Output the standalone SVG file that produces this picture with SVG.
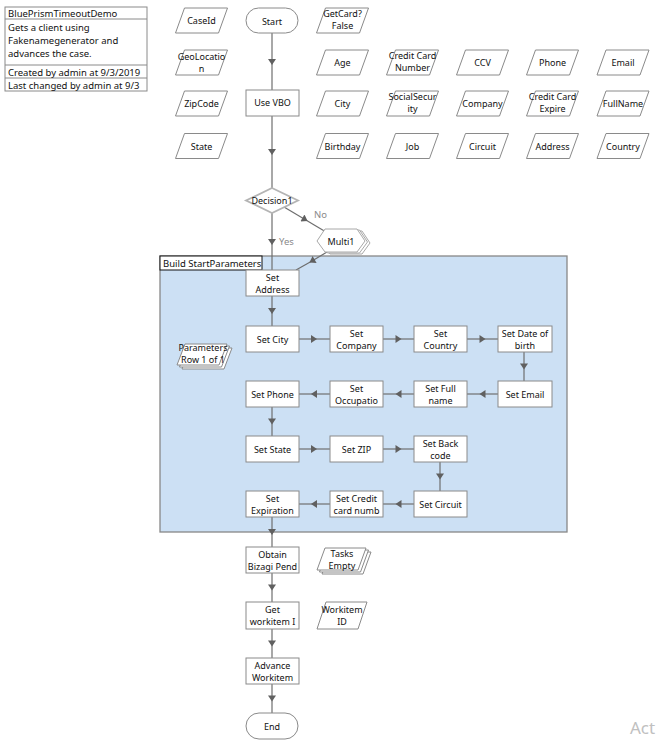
<svg xmlns="http://www.w3.org/2000/svg" width="662" height="741" viewBox="0 0 662 741">
<style>
text{font-family:"Noto Sans","Open Sans","DejaVu Sans",sans-serif;font-size:9px;fill:#111}
.info{font-size:9.5px}
.box{fill:#fff;stroke:#8a8a8a;stroke-width:1}
.par{fill:#fff;stroke:#8a8a8a;stroke-width:1}
.conn{fill:none;stroke:#6e6e6e;stroke-width:1.2;marker-mid:url(#ah)}
.lbl{fill:#8a8a8a;font-size:9.5px}
.wm{fill:#c0c0c0;font-size:17px}
</style>
<defs>
<marker id="ah" viewBox="0 0 8 8" refX="4" refY="4" markerWidth="8" markerHeight="8" markerUnits="userSpaceOnUse" orient="auto">
<path d="M1,0 L7,4 L1,8 z" fill="#606060"/>
</marker>
<polygon id="pg" points="-17,-12.5 26,-12.5 17,12.5 -26,12.5"/>
</defs>
<rect width="662" height="741" fill="#fff"/>

<g id="info">
<rect x="5" y="7" width="142" height="84" fill="#fff" stroke="#8a8a8a"/>
<line x1="5" y1="19" x2="147" y2="19" stroke="#8a8a8a"/>
<line x1="5" y1="65" x2="147" y2="65" stroke="#8a8a8a"/>
<line x1="5" y1="78" x2="147" y2="78" stroke="#8a8a8a"/>
<text class="info" x="8" y="17">BluePrismTimeoutDemo</text>
<text class="info" x="8" y="31">Gets a client using</text>
<text class="info" x="8" y="44">Fakenamegenerator and</text>
<text class="info" x="8" y="57">advances the case.</text>
<text class="info" x="8" y="76">Created by admin at 9/3/2019</text>
<text class="info" x="8" y="89">Last changed by admin at 9/3</text>
</g>

<g id="block">
<rect x="160" y="256" width="407" height="276" fill="#cce0f4" stroke="#888" stroke-width="1.3"/>
<rect x="160" y="256" width="102" height="14" fill="#fff" stroke="#111" stroke-width="1"/>
<text class="info" x="163" y="267">Build StartParameters</text>
</g>

<g id="connectors">
<path class="conn" d="M272,33 L272,62 L272,90"/>
<path class="conn" d="M272,116 L272,152 L272,188"/>
<path class="conn" d="M272,213 L272,242 L272,270"/>
<path class="conn" d="M284,207 L305,219.5 L326,232"/>
<path class="conn" d="M327,252 L312,261 L296,270"/>
<path class="conn" d="M272,296 L272,311 L272,326"/>
<path class="conn" d="M298,339 L314,339 L330,339"/>
<path class="conn" d="M383,339 L398.5,339 L414,339"/>
<path class="conn" d="M467,339 L482.5,339 L498,339"/>
<path class="conn" d="M524,352 L524,366.5 L524,381"/>
<path class="conn" d="M498,394 L482.5,394 L467,394"/>
<path class="conn" d="M414,394 L398.5,394 L383,394"/>
<path class="conn" d="M330,394 L314,394 L298,394"/>
<path class="conn" d="M272,407 L272,421.5 L272,436"/>
<path class="conn" d="M298,449 L314,449 L330,449"/>
<path class="conn" d="M383,449 L398.5,449 L414,449"/>
<path class="conn" d="M440,462 L440,476.5 L440,491"/>
<path class="conn" d="M414,504 L398.5,504 L383,504"/>
<path class="conn" d="M330,504 L314,504 L298,504"/>
<path class="conn" d="M272,517 L272,532 L272,547"/>
<path class="conn" d="M272,573 L272,587.5 L272,602"/>
<path class="conn" d="M272,629 L272,643.5 L272,658"/>
<path class="conn" d="M272,684 L272,698.5 L272,713"/>
<text class="lbl" x="314" y="218">No</text>
<text class="lbl" x="279" y="245">Yes</text>
</g>

<g id="start"><rect class="box" x="246" y="8" width="52" height="25" rx="12.5"/><text x="272" y="24.5" text-anchor="middle">Start</text></g>
<g id="usevbo"><rect class="box" x="246" y="90" width="53" height="26"/><text x="272.5" y="106" text-anchor="middle">Use VBO</text></g>
<g id="decision1"><polygon points="272,188 298,200.5 272,213 246,200.5" fill="#fff" stroke="#b4b4b4" stroke-width="1.8"/><text x="272" y="204" text-anchor="middle" fill="#2a1a44">Decision1</text></g>
<g id="multi1">
<polygon points="322,243 330,231 362,231 370,243 362,254 330,254" fill="#fff" stroke="#a8a8a8"/>
<polygon points="319.5,242 327.5,230 359.5,230 367.5,242 359.5,253 327.5,253" fill="#fff" stroke="#a8a8a8"/>
<polygon points="317,241 325,229 357,229 365,241 357,252 325,252" fill="#fff" stroke="#a8a8a8"/>
<text x="341" y="244.5" text-anchor="middle">Multi1</text>
</g>

<g id="data-items">
<g id="d-caseid"><use href="#pg" class="par" x="201.5" y="20.5"/><text x="201.5" y="24" text-anchor="middle">CaseId</text></g>
<g id="d-geo"><use href="#pg" class="par" x="201.5" y="62.5"/><text x="201.5" y="60" text-anchor="middle">GeoLocatio</text><text x="201.5" y="72" text-anchor="middle">n</text></g>
<g id="d-zip"><use href="#pg" class="par" x="201.5" y="103.5"/><text x="201.5" y="107" text-anchor="middle">ZipCode</text></g>
<g id="d-state"><use href="#pg" class="par" x="201.5" y="146"/><text x="201.5" y="149.5" text-anchor="middle">State</text></g>
<g id="d-getcard"><use href="#pg" class="par" x="342.5" y="20.5"/><text x="342.5" y="17" text-anchor="middle">GetCard?</text><text x="342.5" y="29" text-anchor="middle">False</text></g>
<g id="d-age"><use href="#pg" class="par" x="342.5" y="62.5"/><text x="342.5" y="66" text-anchor="middle">Age</text></g>
<g id="d-city"><use href="#pg" class="par" x="342.5" y="103.5"/><text x="342.5" y="107" text-anchor="middle">City</text></g>
<g id="d-birthday"><use href="#pg" class="par" x="342.5" y="146"/><text x="342.5" y="149.5" text-anchor="middle">Birthday</text></g>
<g id="d-ccnum"><use href="#pg" class="par" x="412.5" y="62.5"/><text x="412.5" y="59" text-anchor="middle">Credit Card</text><text x="412.5" y="71" text-anchor="middle">Number</text></g>
<g id="d-ssn"><use href="#pg" class="par" x="412.5" y="103.5"/><text x="412.5" y="100" text-anchor="middle">SocialSecur</text><text x="412.5" y="112" text-anchor="middle">ity</text></g>
<g id="d-job"><use href="#pg" class="par" x="412.5" y="146"/><text x="412.5" y="149.5" text-anchor="middle">Job</text></g>
<g id="d-ccv"><use href="#pg" class="par" x="482.5" y="62.5"/><text x="482.5" y="66" text-anchor="middle">CCV</text></g>
<g id="d-company"><use href="#pg" class="par" x="482.5" y="103.5"/><text x="482.5" y="107" text-anchor="middle">Company</text></g>
<g id="d-circuit"><use href="#pg" class="par" x="482.5" y="146"/><text x="482.5" y="149.5" text-anchor="middle">Circuit</text></g>
<g id="d-phone"><use href="#pg" class="par" x="552.5" y="62.5"/><text x="552.5" y="66" text-anchor="middle">Phone</text></g>
<g id="d-ccexp"><use href="#pg" class="par" x="552.5" y="103.5"/><text x="552.5" y="100" text-anchor="middle">Credit Card</text><text x="552.5" y="112" text-anchor="middle">Expire</text></g>
<g id="d-address"><use href="#pg" class="par" x="552.5" y="146"/><text x="552.5" y="149.5" text-anchor="middle">Address</text></g>
<g id="d-email"><use href="#pg" class="par" x="623" y="62.5"/><text x="623" y="66" text-anchor="middle">Email</text></g>
<g id="d-fullname"><use href="#pg" class="par" x="623" y="103.5"/><text x="623" y="107" text-anchor="middle">FullName</text></g>
<g id="d-country"><use href="#pg" class="par" x="623" y="146"/><text x="623" y="149.5" text-anchor="middle">Country</text></g>
</g>

<g id="params">
<polygon points="190,348 232,348 224,369 182,369" class="par"/>
<polygon points="187.5,346 229.5,346 221.5,367 179.5,367" class="par"/>
<polygon points="185,344 227,344 219,365 177,365" class="par"/>
<text x="203" y="351" text-anchor="middle">Parameters</text>
<text x="203" y="363" text-anchor="middle">Row 1 of 1</text>
</g>

<g id="set-address"><rect class="box" x="246" y="270" width="53" height="26"/><text x="272.5" y="281" text-anchor="middle">Set</text><text x="272.5" y="293" text-anchor="middle">Address</text></g>
<g id="set-city"><rect class="box" x="246" y="326" width="53" height="26"/><text x="272.5" y="342.5" text-anchor="middle">Set City</text></g>
<g id="set-company"><rect class="box" x="330" y="326" width="53" height="26"/><text x="356.5" y="337" text-anchor="middle">Set</text><text x="356.5" y="349" text-anchor="middle">Company</text></g>
<g id="set-country"><rect class="box" x="414" y="326" width="53" height="26"/><text x="440.5" y="337" text-anchor="middle">Set</text><text x="440.5" y="349" text-anchor="middle">Country</text></g>
<g id="set-dob"><rect class="box" x="498" y="326" width="54" height="26"/><text x="525" y="337" text-anchor="middle">Set Date of</text><text x="525" y="349" text-anchor="middle">birth</text></g>
<g id="set-email"><rect class="box" x="498" y="381" width="54" height="26"/><text x="525" y="397.5" text-anchor="middle">Set Email</text></g>
<g id="set-fullname"><rect class="box" x="414" y="381" width="53" height="26"/><text x="440.5" y="392" text-anchor="middle">Set Full</text><text x="440.5" y="404" text-anchor="middle">name</text></g>
<g id="set-occupation"><rect class="box" x="330" y="381" width="53" height="26"/><text x="356.5" y="392" text-anchor="middle">Set</text><text x="356.5" y="404" text-anchor="middle">Occupatio</text></g>
<g id="set-phone"><rect class="box" x="246" y="381" width="53" height="26"/><text x="272.5" y="397.5" text-anchor="middle">Set Phone</text></g>
<g id="set-state"><rect class="box" x="246" y="436" width="53" height="26"/><text x="272.5" y="452.5" text-anchor="middle">Set State</text></g>
<g id="set-zip"><rect class="box" x="330" y="436" width="53" height="26"/><text x="356.5" y="452.5" text-anchor="middle">Set ZIP</text></g>
<g id="set-backcode"><rect class="box" x="414" y="436" width="53" height="26"/><text x="440.5" y="447" text-anchor="middle">Set Back</text><text x="440.5" y="459" text-anchor="middle">code</text></g>
<g id="set-circuit"><rect class="box" x="414" y="491" width="53" height="26"/><text x="440.5" y="507.5" text-anchor="middle">Set Circuit</text></g>
<g id="set-ccnum"><rect class="box" x="330" y="491" width="53" height="26"/><text x="356.5" y="502" text-anchor="middle">Set Credit</text><text x="356.5" y="514" text-anchor="middle">card numb</text></g>
<g id="set-expiration"><rect class="box" x="246" y="491" width="53" height="26"/><text x="272.5" y="502" text-anchor="middle">Set</text><text x="272.5" y="514" text-anchor="middle">Expiration</text></g>

<g id="obtain"><rect class="box" x="246" y="547" width="53" height="26"/><text x="272.5" y="558" text-anchor="middle">Obtain</text><text x="272.5" y="570" text-anchor="middle">Bizagi Pend</text></g>
<g id="tasks-empty">
<polygon points="330,552 371,552 363,574 322,574" class="par"/>
<polygon points="327.5,550 368.5,550 360.5,572 319.5,572" class="par"/>
<polygon points="325,548 366,548 358,570 317,570" class="par"/>
<text x="342" y="557" text-anchor="middle">Tasks</text>
<text x="342" y="569" text-anchor="middle">Empty</text>
</g>
<g id="getworkitem"><rect class="box" x="246" y="602" width="53" height="27"/><text x="272.5" y="613" text-anchor="middle">Get</text><text x="272.5" y="625" text-anchor="middle">workitem  I</text></g>
<g id="workitem-id"><polygon points="326,602 367,602 358,629 317,629" class="par"/><text x="342" y="613" text-anchor="middle">Workitem</text><text x="342" y="625" text-anchor="middle">ID</text></g>
<g id="advance"><rect class="box" x="246" y="658" width="53" height="26"/><text x="272.5" y="669" text-anchor="middle">Advance</text><text x="272.5" y="681" text-anchor="middle">Workitem</text></g>
<g id="end"><rect class="box" x="246" y="713" width="52" height="26" rx="13"/><text x="272" y="729.5" text-anchor="middle">End</text></g>

<text class="wm" x="630" y="734">Act</text>
</svg>
